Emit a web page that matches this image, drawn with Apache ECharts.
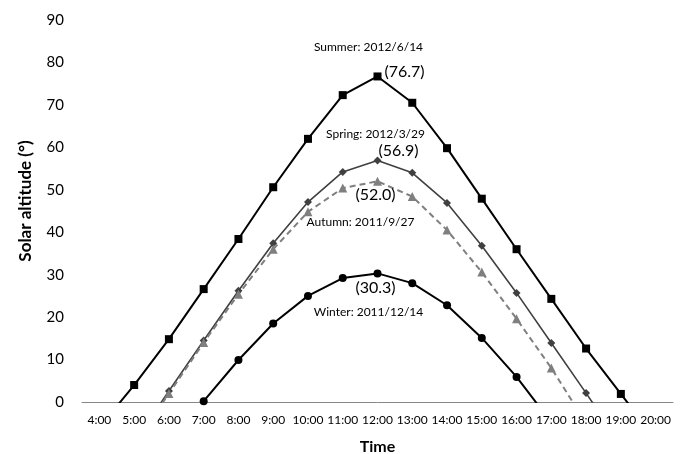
<!DOCTYPE html>
<html><head><meta charset="utf-8">
<script src="https://cdn.jsdelivr.net/npm/echarts@6/dist/echarts.min.js"></script>
<style>html,body{margin:0;padding:0;background:#fff}#c{width:682px;height:454px}</style>
</head><body><div id="c"></div>
<script>
var hours = ['4:00','5:00','6:00','7:00','8:00','9:00','10:00','11:00','12:00','13:00','14:00','15:00','16:00','17:00','18:00','19:00','20:00'];
// values below 0 only set where each curve crosses the horizon (drawn clipped, no marker)
var summer = [-6, 4.0, 14.8, 26.6, 38.4, 50.6, 62.0, 72.3, 76.7, 70.5, 59.8, 47.9, 36.0, 24.3, 12.6, 1.9, -8.7];
var spring = ['-', -9.5, 2.6, 14.5, 26.2, 37.4, 47.1, 54.2, 56.9, 54.0, 46.9, 36.8, 25.7, 13.9, 2.1, -10, '-'];
var autumn = ['-', -10, 2.0, 14.0, 25.4, 36.0, 44.8, 50.4, 52.0, 48.4, 40.5, 30.6, 19.6, 8.0, -5, '-', '-'];
var winter = ['-', '-', '-', 0.2, 9.9, 18.5, 25.0, 29.2, 30.3, 28.0, 22.8, 15.1, 5.9, -4.8, '-', '-', '-'];
var seasonLabels = ['Summer: 2012/6/14', 'Spring: 2012/3/29', 'Autumn: 2011/9/27', 'Winter: 2011/12/14'];
var peakHour = '12:00';
var peakValues = [76.7, 56.9, 52.0, 30.3];
var yTicks = {min: 0, max: 90, interval: 10};

var FONT = 'Lato';
function prep(arr) {
  return arr.map(function (v) {
    if (v === '-') return '-';
    if (v < 0) return {value: v, symbol: 'none'};
    return v;
  });
}
function notes(i, nameOffset, valOffset) {
  var c = [peakHour, peakValues[i]];
  return {
    silent: true,
    symbol: 'circle', symbolSize: 0,
    data: [
      {coord: c, label: {show: true, position: 'inside', offset: nameOffset, formatter: seasonLabels[i], fontSize: 12, color: '#000', fontFamily: FONT}},
      {coord: c, label: {show: true, position: 'inside', offset: valOffset, formatter: '(' + peakValues[i].toFixed(1) + ')', fontSize: 16, color: '#000', fontFamily: FONT}}
    ]
  };
}
var chart = echarts.init(document.getElementById('c'));
chart.setOption({
  animation: false,
  grid: {left: 82, right: 9, top: 20, bottom: 52, containLabel: false, outerBoundsMode: 'none'},
  xAxis: {
    type: 'category', data: hours, boundaryGap: true,
    name: 'Time', nameLocation: 'middle', nameGap: 37,
    nameTextStyle: {fontFamily: FONT, fontWeight: 'bold', fontSize: 16, color: '#000'},
    axisLine: {lineStyle: {color: '#868686', width: 1}},
    axisTick: {show: false},
    axisLabel: {fontFamily: FONT, fontSize: 12, color: '#000', margin: 12, interval: 0}
  },
  yAxis: {
    type: 'value', min: yTicks.min, max: yTicks.max, interval: yTicks.interval,
    name: 'Solar altitude (°)', nameLocation: 'middle', nameGap: 48,
    nameTextStyle: {fontFamily: FONT, fontWeight: 'bold', fontSize: 17, color: '#000', padding: [0, 0, 0, 20]},
    axisLine: {show: false}, axisTick: {show: false}, splitLine: {show: false},
    axisLabel: {fontFamily: FONT, fontSize: 15, color: '#000', margin: 18}
  },
  series: [
    {name: 'Summer', type: 'line', data: prep(summer), clip: true,
     symbol: 'rect', symbolSize: 8, itemStyle: {color: '#000'},
     lineStyle: {color: '#000', width: 2}, markPoint: notes(0, [-9, -29], [27, -5])},
    {name: 'Spring', type: 'line', data: prep(spring), clip: true,
     symbol: 'diamond', symbolSize: 8, itemStyle: {color: '#404040'},
     lineStyle: {color: '#404040', width: 1.6}, markPoint: notes(1, [-2, -26], [21, -10])},
    {name: 'Autumn', type: 'line', data: prep(autumn), clip: true,
     symbol: 'triangle', symbolSize: 9, itemStyle: {color: '#7f7f7f'},
     lineStyle: {color: '#7f7f7f', width: 2, type: [6, 4]}, markPoint: notes(2, [-17, 41], [-2, 14])},
    {name: 'Winter', type: 'line', data: prep(winter), clip: true,
     symbol: 'circle', symbolSize: 8, itemStyle: {color: '#000'},
     lineStyle: {color: '#000', width: 2}, markPoint: notes(3, [-9, 39], [-2, 14])}
  ]
});
</script></body></html>
